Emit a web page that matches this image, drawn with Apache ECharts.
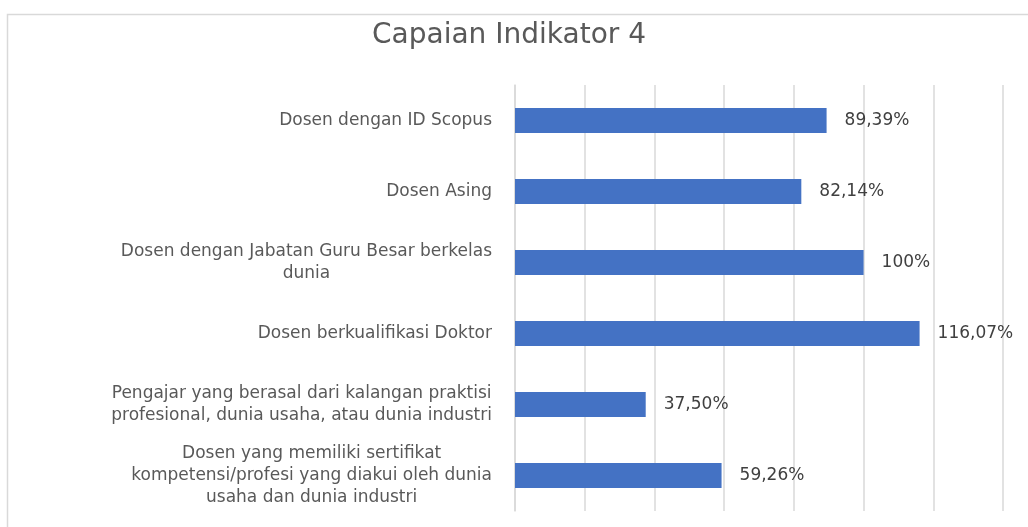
<!DOCTYPE html>
<html>
<head>
<meta charset="utf-8">
<script src="https://cdn.jsdelivr.net/npm/echarts@6/dist/echarts.min.js"></script>
<style>
  html, body { margin: 0; padding: 0; background: #fff; }
  #chart { width: 1028px; height: 527px; }
</style>
</head>
<body>
<div id="chart"></div>
<script>
  // data
  const categories = [
    'Dosen dengan ID Scopus',
    'Dosen Asing',
    'Dosen dengan Jabatan Guru Besar berkelas\ndunia',
    'Dosen berkualifikasi Doktor',
    'Pengajar yang berasal dari kalangan praktisi\nprofesional, dunia usaha, atau dunia industri',
    'Dosen yang memiliki sertifikat\nkompetensi/profesi yang diakui oleh dunia\nusaha dan dunia industri'
  ];
  const values = [89.39, 82.14, 100, 116.07, 37.50, 59.26];

  let myChart = echarts.init(document.getElementById('chart'));
  myChart.setOption({
    animation: false,
    backgroundColor: '#fff',
    title: {
      text: 'Capaian Indikator 4',
      left: 367,
      top: 17,
      textStyle: {
        fontFamily: 'DejaVu Sans',
        fontSize: 28,
        fontWeight: 'normal',
        color: '#595959'
      }
    },
    // chart frame
    graphic: [{
      type: 'rect',
      left: 5,
      top: 12,
      shape: { width: 1100, height: 600 },
      style: { fill: 'none', stroke: '#d9d9d9', lineWidth: 1.5 },
      silent: true
    }],
    grid: {
      left: 515,
      right: 25,
      top: 85,
      bottom: 16
    },
    xAxis: {
      type: 'value',
      min: 0,
      max: 140,
      interval: 20,
      axisLabel: { show: false },
      axisLine: { show: false },
      axisTick: { show: false },
      splitLine: { lineStyle: { color: '#d9d9d9', width: 1.5 } }
    },
    yAxis: {
      type: 'category',
      inverse: true,
      data: categories,
      axisLine: { show: true, lineStyle: { color: '#d9d9d9', width: 1.5 } },
      axisTick: { show: false },
      axisLabel: {
        margin: 23,
        // multi-line labels are centred inside their block, like Excel
        formatter: function (v) {
          return v.split('\n').map(function (l) { return '{c|' + l + '}'; }).join('\n');
        },
        rich: {
          c: {
            align: 'center',
            fontFamily: 'DejaVu Sans',
            fontSize: 17,
            lineHeight: 22,
            color: '#595959'
          }
        }
      }
    },
    series: [{
      type: 'bar',
      data: values,
      barWidth: '35%',
      itemStyle: { color: '#4472c4' },
      label: {
        show: true,
        position: 'right',
        distance: 18,
        fontFamily: 'DejaVu Sans',
        fontSize: 17,
        color: '#404040',
        formatter: function (p) {
          let v = p.value;
          return (Number.isInteger(v) ? String(v) : v.toFixed(2).replace('.', ',')) + '%';
        }
      }
    }]
  });
</script>
</body>
</html>
